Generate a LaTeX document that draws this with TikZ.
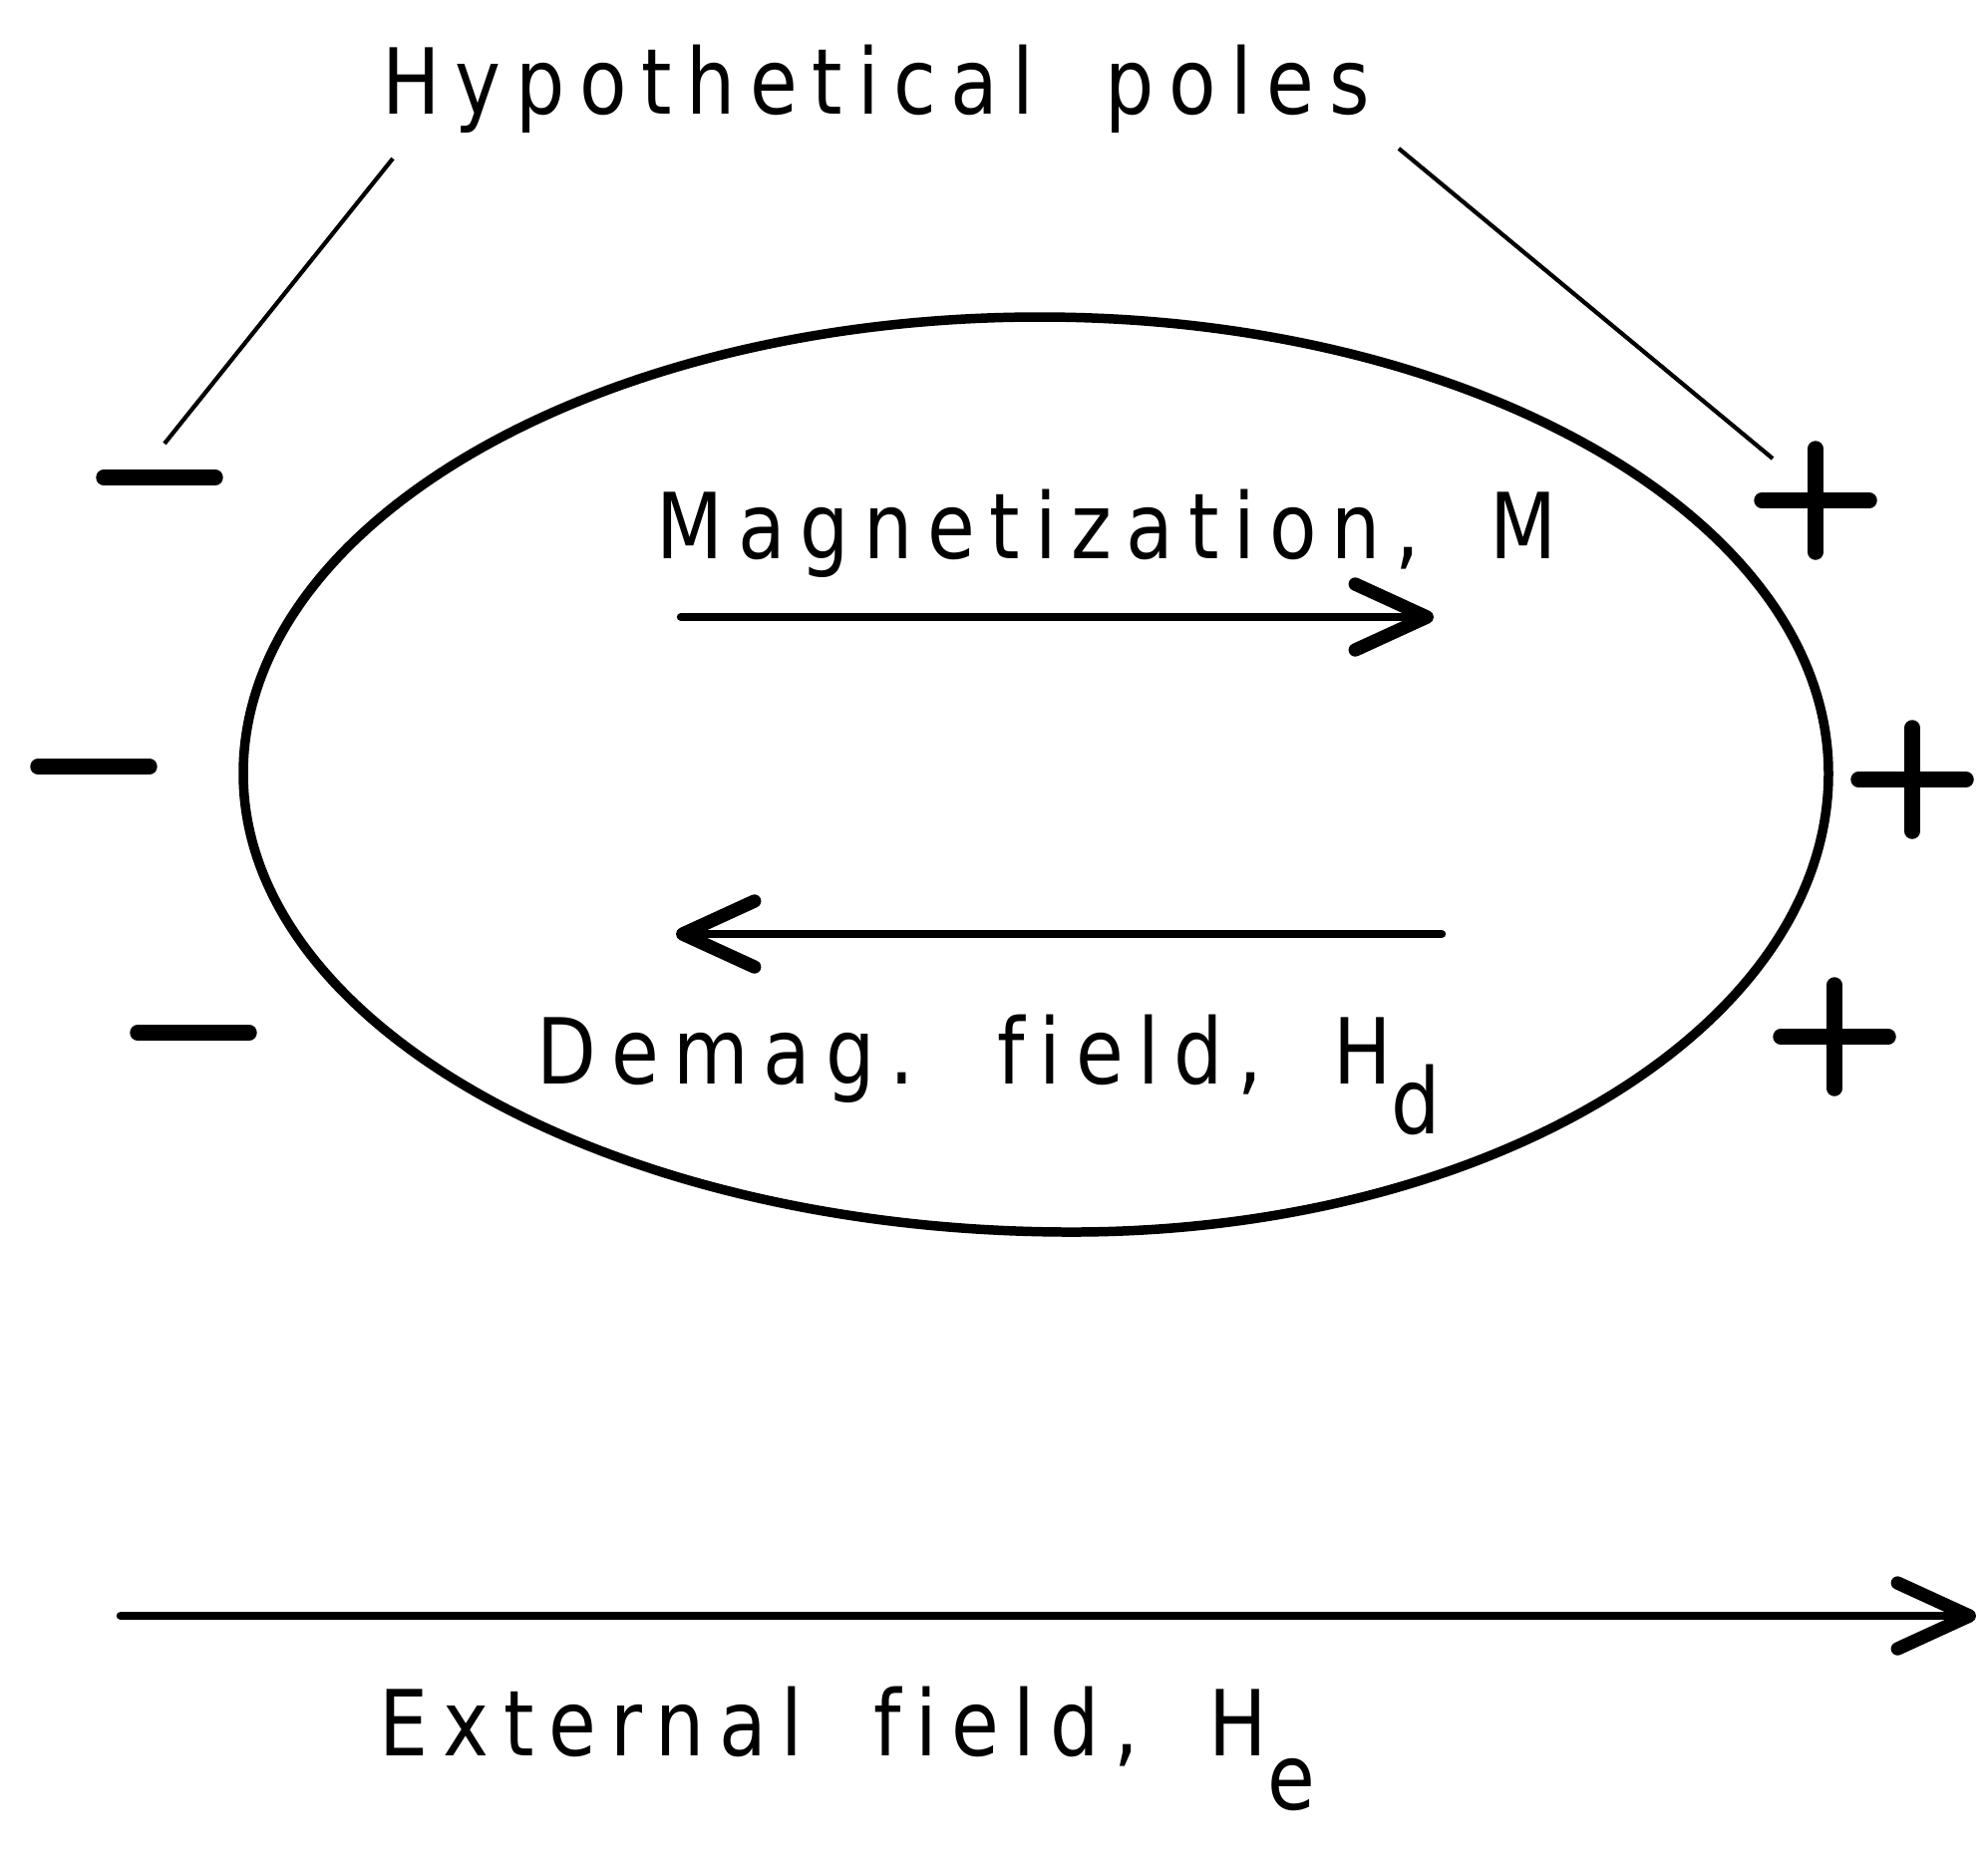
\documentclass[tikz,border=0pt]{standalone}
\usepackage{fontspec}
\newfontfamily\plotfont[FakeStretch=0.85, LetterSpace=16, WordSpace=1.8, Ligatures=NoCommon]{DejaVu Sans}
\usetikzlibrary{arrows.meta}

\tikzset{
  polemin/.pic={\draw[pole] (-56,0) -- (56,0);},
  poleplus/.pic={\draw[pole] (-54,0) -- (54,0) (0,-52) -- (0,52);}
}

\begin{document}
\begin{tikzpicture}[x=0.01cm, y=-0.01cm,
  txt/.style={font=\plotfont\fontsize{26}{30}\selectfont, inner sep=0pt, anchor=base west},
  field/.style={-{Straight Barb[length=0.72cm, width=0.66cm, line width=3.8pt, round]}, line width=2.4pt, line cap=round},
  leader/.style={line width=1.2pt},
  pole/.style={line width=4.4pt, line cap=round},
  body/.style={line width=2.7pt}
]
\useasboundingbox (0,0) rectangle (1994,1871);

% labels
\node[txt] (poles) at (383,114) {Hypothetical poles};
\node[txt] (magn) at (658,560) {Magnetization, M};
\node[txt] (demag) at (538,1087) {Demag. field, H\raisebox{-0.55em}{d}};
\node[txt] (ext) at (380,1761) {External field, H\raisebox{-0.6em}{e}};

% specimen
\coordinate (bodyL) at (244,776);
\coordinate (bodyT) at (1043,318);
\coordinate (bodyR) at (1834,776);
\coordinate (bodyB) at (1075,1236);
\draw[body] (bodyL) .. controls (244,523) and (602,318) .. (bodyT)
  .. controls (1480,318) and (1834,523) .. (bodyR)
  .. controls (1834,1030) and (1494,1236) .. (bodyB)
  .. controls (616,1236) and (244,1030) .. (bodyL) -- cycle;

% poles
\pic at (160,479) {polemin};
\pic at (94,769) {polemin};
\pic at (194,1036) {polemin};
\pic at (1821,502) {poleplus};
\pic at (1918,782) {poleplus};
\pic at (1840,1040) {poleplus};

% leaders
\coordinate (legL1) at (394,159);
\coordinate (legL2) at (165,445);
\coordinate (legR1) at (1403,149);
\coordinate (legR2) at (1778,460);
\draw[leader] (legL1) -- (legL2);
\draw[leader] (legR1) -- (legR2);

% field arrows
\coordinate (mA) at (683,619);
\coordinate (mB) at (1438,619);
\coordinate (hdA) at (1446,937);
\coordinate (hdB) at (678,937);
\coordinate (heA) at (121,1621);
\coordinate (heB) at (1982,1621);
\draw[field] (mA) -- (mB);
\draw[field] (hdA) -- (hdB);
\draw[field] (heA) -- (heB);

\end{tikzpicture}
\end{document}
